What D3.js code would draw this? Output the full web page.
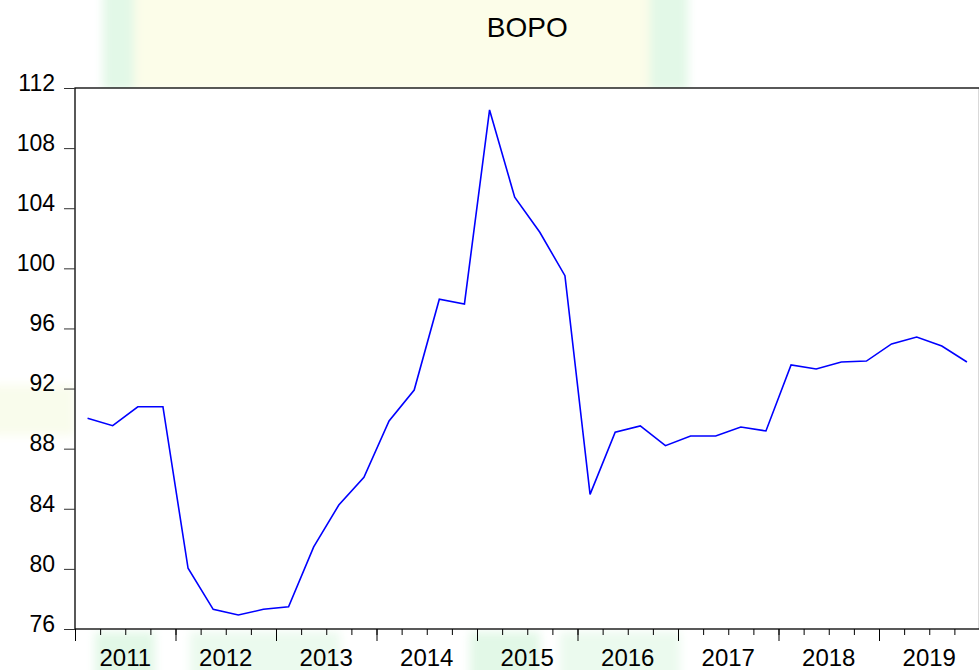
<!DOCTYPE html>
<html>
<head>
<meta charset="utf-8">
<script src="https://cdn.jsdelivr.net/npm/d3@7"></script>
<style>
  body { margin: 0; background: #fff; }
  text { font-family: "Liberation Sans", Arial, sans-serif; fill: #000; }
</style>
</head>
<body>
<div id="chart"></div>
<script>
// Data: BOPO quarterly, 2011Q1 - 2019Q4
const years = [2011, 2012, 2013, 2014, 2015, 2016, 2017, 2018, 2019];
const quarters = ["Q1", "Q2", "Q3", "Q4"];
const bopo = [
    90.02, 89.53, 90.79, 90.79,
    80.04, 77.31, 76.93, 77.31,
    77.48, 81.46, 84.25, 86.10,
    89.84, 91.90, 97.94, 97.63,
    110.54, 104.73, 102.40, 99.51,
    84.96, 89.09, 89.51, 88.20,
    88.84, 88.84, 89.44, 89.18,
    93.57, 93.30, 93.77, 93.83,
    94.97, 95.43, 94.83, 93.77
];
const yTicks = [76, 80, 84, 88, 92, 96, 100, 104, 108, 112];

const width = 979;
const height = 670;
const margin = { top: 88, right: -0.5, bottom: 41, left: 75 };

const svg = d3.select("#chart").append("svg")
    .attr("width", width)
    .attr("height", height);

// faint, blurred watermark behind the chart
svg.append("defs").append("filter")
    .attr("id", "soft")
    .attr("x", "-20%").attr("y", "-20%").attr("width", "140%").attr("height", "140%")
    .append("feGaussianBlur").attr("stdDeviation", 5);

const wm = svg.append("g").attr("filter", "url(#soft)");
wm.append("rect").attr("x", 134).attr("y", -10).attr("width", 516).attr("height", 100).attr("fill", "#fcfde9");
wm.append("rect").attr("x", 103).attr("y", -10).attr("width", 31).attr("height", 100).attr("fill", "#e2f8e7");
wm.append("rect").attr("x", 650).attr("y", -10).attr("width", 38).attr("height", 100).attr("fill", "#e2f8e7");
wm.append("rect").attr("x", -10).attr("y", 385).attr("width", 85).attr("height", 50).attr("fill", "#f9fcec");
wm.append("rect").attr("x", 95).attr("y", 632).attr("width", 60).attr("height", 50).attr("fill", "#e2f8e7");
wm.append("rect").attr("x", 190).attr("y", 632).attr("width", 150).attr("height", 50).attr("fill", "#ebfaee");
wm.append("rect").attr("x", 470).attr("y", 632).attr("width", 70).attr("height", 50).attr("fill", "#e2f8e7");
wm.append("rect").attr("x", 560).attr("y", 632).attr("width", 120).attr("height", 50).attr("fill", "#ebfaee");

const x = d3.scaleLinear()
    .domain([years[0], years[years.length - 1] + 1])
    .range([margin.left, width - margin.right]);

const y = d3.scaleLinear()
    .domain([76, 112])
    .range([height - margin.bottom, margin.top]);

// plot area
svg.append("rect")
    .attr("x", margin.left)
    .attr("y", margin.top)
    .attr("width", width - margin.right - margin.left)
    .attr("height", height - margin.bottom - margin.top)
    .attr("fill", "#fff")
    .attr("stroke", "#000")
    .attr("stroke-width", 1.3);

// x axis: quarter ticks, year ticks, year labels
const quarterTicks = d3.range(years[0], years[years.length - 1] + 1.01, 0.25);
svg.append("g")
    .attr("transform", `translate(0, ${height - margin.bottom})`)
    .call(d3.axisBottom(x).tickValues(quarterTicks).tickSize(6).tickFormat(""))
    .call(g => g.select(".domain").remove());

svg.append("g")
    .attr("transform", `translate(0, ${height - margin.bottom})`)
    .call(d3.axisBottom(x).tickValues(years).tickSize(12).tickFormat(""))
    .call(g => g.select(".domain").remove());

svg.append("g")
    .selectAll("text")
    .data(years)
    .enter()
    .append("text")
    .attr("x", d => x(d + 0.5))
    .attr("y", 666)
    .attr("text-anchor", "middle")
    .attr("font-size", 24)
    .text(d => d);

// y axis
svg.append("g")
    .attr("transform", `translate(${margin.left}, 0)`)
    .call(d3.axisLeft(y).tickValues(yTicks).tickSize(11).tickPadding(9))
    .call(g => g.select(".domain").remove())
    .call(g => g.selectAll(".tick line").attr("stroke", "#333"))
    .call(g => g.selectAll(".tick text")
        .attr("font-size", 23)
        .attr("font-family", "Liberation Sans, Arial, sans-serif")
        .attr("dy", "0.1em"));

// line
const points = bopo.map((v, i) => ({ t: years[0] + i / 4 + 0.125, v: v }));
const line = d3.line()
    .x(d => x(d.t))
    .y(d => y(d.v));

svg.append("path")
    .datum(points)
    .attr("fill", "none")
    .attr("stroke", "#0000ff")
    .attr("stroke-width", 1.6)
    .attr("stroke-linejoin", "miter")
    .attr("d", line);

// title
svg.append("text")
    .attr("x", (margin.left + width - margin.right) / 2)
    .attr("y", 37)
    .attr("text-anchor", "middle")
    .attr("font-size", 28)
    .text("BOPO");
</script>
</body>
</html>
